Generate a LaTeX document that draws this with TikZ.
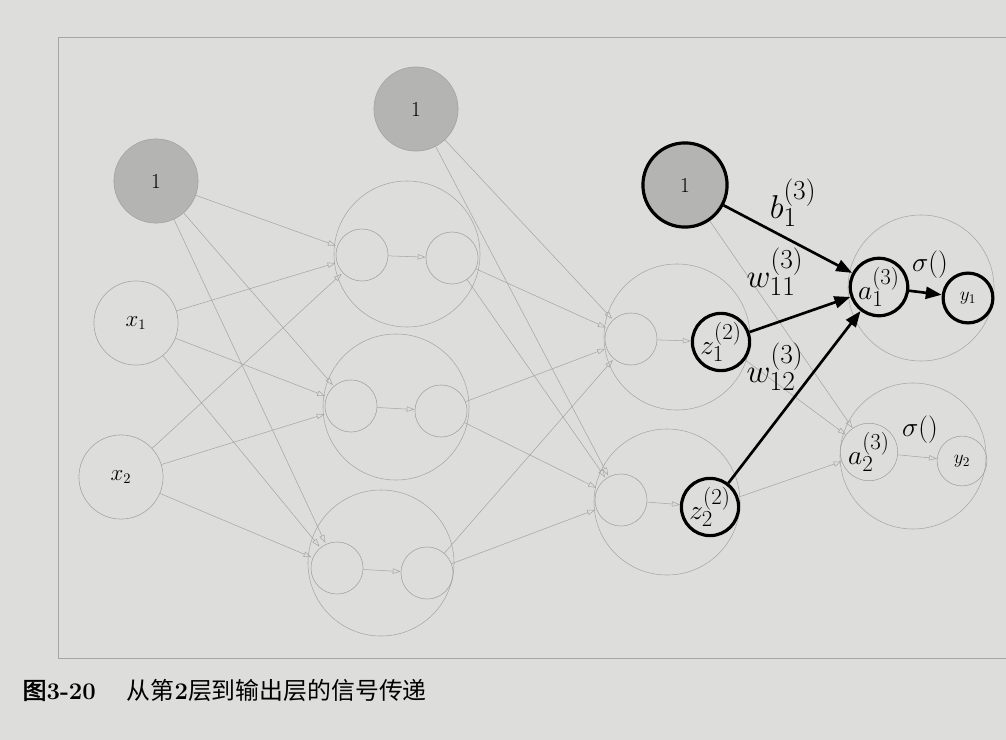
\documentclass[tikz,border=0pt]{standalone}
\usepackage{fontspec}
\newfontfamily\cjk{Noto Sans CJK SC}
\newfontfamily\cjkbold[FakeBold=2]{Noto Sans CJK SC}
\usetikzlibrary{arrows.meta}
\DeclareMathSizes{24}{24}{20}{15}
\DeclareMathSizes{21}{21}{17}{13}
\definecolor{paper}{RGB}{221,221,219}
\definecolor{biasgray}{RGB}{180,180,178}
\tikzset{
  neuron/.style={circle,draw=gray!75,thin,inner sep=0pt,minimum size=22.3mm,font=\fontsize{16}{17}\selectfont},
  biasnode/.style={neuron,fill=biasgray},
  biasbold/.style={biasnode,draw=black,line width=2.4pt},
  layerbox/.style={circle,draw=gray!70,thin,inner sep=0pt,minimum size=38.7mm},
  cell/.style={circle,draw=gray!75,thin,inner sep=0pt,minimum size=13.8mm},
  active/.style={circle,draw=black,line width=2.4pt,inner sep=0pt,minimum size=14.8mm,font=\fontsize{21}{22}\selectfont},
  wire/.style={draw=gray!70,thin,-{Triangle[open,length=6pt,width=4pt]}},
  boldwire/.style={draw=black,line width=2pt,-{Triangle[length=12pt,width=9pt]}},
  lbl/.style={font=\fontsize{24}{26}\selectfont}
}
\begin{document}
\begin{tikzpicture}[x=0.265mm,y=-0.265mm]
    % Trang giấy
    \fill[paper] (0,0) rectangle (1006,740);
    \useasboundingbox (0,0) rectangle (1006,740);
    \draw[gray!70] (58,37) rectangle (1040,658);

    % Lớp vào
    \node[biasnode] (b0) at (156,181) {1};
    \node[neuron] (x1) at (136,323) {$x_1$};
    \node[neuron] (x2) at (121,477) {$x_2$};

    % Lớp ẩn thứ nhất
    \node[biasnode] (b1) at (416,109) {1};
    \foreach \i/\bx/\by/\lx/\ly/\rx/\ry in {1/407/254/362/255/452/258,2/396/407/351/406/441/411,3/381/563/337/568/427/573} {
    \node[layerbox] (h1\i) at (\bx,\by) {};
    \node[cell] (a1\i) at (\lx,\ly) {};
    \node[cell] (z1\i) at (\rx,\ry) {};
    \draw[wire] (a1\i) -- (z1\i);
    }
    \foreach \s in {b0,x1,x2}
    \foreach \t in {1,2,3}
    \draw[wire,shorten >=1pt] (\s) -- (a1\t);

    % Lớp ẩn thứ hai
    \node[biasbold] (b2) at (685,185) {1};
    \node[layerbox] (h21) at (677,337) {};
    \node[cell] (a21) at (631,339) {};
    \node[active] (z21) at (721,342) {$z_1^{(2)}$};
    \node[layerbox] (h22) at (667,502) {};
    \node[cell] (a22) at (621,500) {};
    \node[active] (z22) at (710,507) {$z_2^{(2)}$};
    \draw[wire] (a21) -- (z21);
    \draw[wire] (a22) -- (z22);
    \foreach \s in {b1,z11,z12,z13}
    \foreach \t in {1,2}
    \draw[wire,shorten >=1pt] (\s) -- (a2\t);

    % Lớp ra
    \node[layerbox] (h31) at (921,288) {};
    \node[active] (a31) at (879,287) {$a_1^{(3)}$};
    \node[active,minimum size=13.2mm,font=\fontsize{14}{15}\selectfont] (y1) at (968,298) {$y_1$};
    \node[layerbox] (h32) at (913,456) {};
    \node[cell,font=\fontsize{21}{22}\selectfont] (a32) at (869,452) {$a_2^{(3)}$};
    \node[cell,minimum size=13.2mm,font=\fontsize{14}{15}\selectfont] (y2) at (962,461) {$y_2$};

    % Tín hiệu
    \draw[wire] (b2) -- (a32);
    \draw[wire] (z21) -- (a32);
    \draw[wire] (z22) -- (a32);
    \draw[wire] (a32) -- (y2);
    \draw[boldwire] (b2) -- (a31);
    \draw[boldwire] (z21) -- (a31);
    \draw[boldwire] (z22) -- (a31);
    \draw[boldwire] (a31) -- (y1);

    % Nhãn
    \node[lbl] (lb) at (793,203) {$b_1^{(3)}$};
    \node[lbl] (lw11) at (775,272) {$w_{11}^{(3)}$};
    \node[lbl] (lw12) at (775,367) {$w_{12}^{(3)}$};
    \node[lbl,font=\fontsize{20}{22}\selectfont] (ls1) at (930,265) {$\sigma()$};
    \node[lbl,font=\fontsize{20}{22}\selectfont] (ls2) at (920,430) {$\sigma()$};

    % Chú thích
    \node[anchor=west,font=\cjk\fontsize{18}{20}\selectfont] (cap) at (18,690)
    {{\cjkbold 图}{\rmfamily\bfseries 3-20}\hspace{1.3em}从第{\rmfamily\bfseries 2}层到输出层的信号传递};
\end{tikzpicture}
\end{document}
